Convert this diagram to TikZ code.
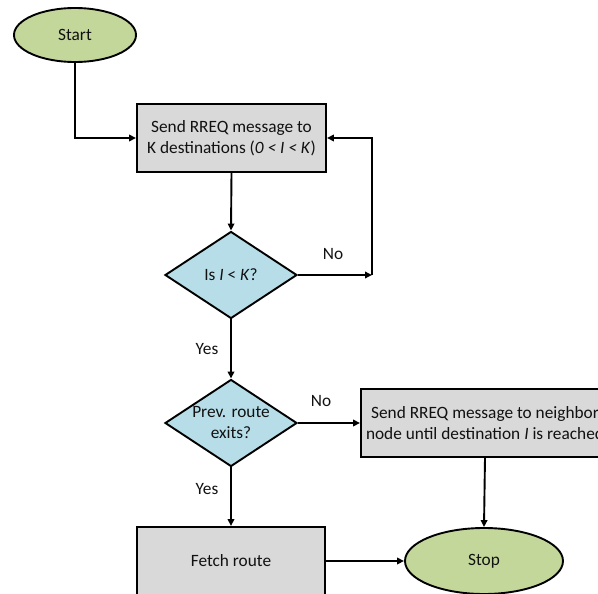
\documentclass[tikz,border=0pt]{standalone}
\usepackage{fontspec}
\setmainfont{Carlito}
\usetikzlibrary{shapes.geometric,arrows.meta}
\definecolor{termgreen}{HTML}{C4D79B}
\definecolor{decblue}{HTML}{B7DEE8}
\definecolor{boxgray}{HTML}{D9D9D9}
\definecolor{ink}{HTML}{111111}
\begin{document}
\begin{tikzpicture}[x=1pt,y=-1pt,
  every node/.style={font=\fontsize{17.3}{21}\selectfont, text=ink},
  outline/.style={draw=black, line width=1.9pt},
  terminal/.style={outline, ellipse, fill=termgreen, inner sep=0pt},
  procbox/.style={outline, rectangle, fill=boxgray, align=center, inner sep=0pt, minimum height=68pt},
  decide/.style={outline, diamond, fill=decblue, inner sep=0pt, minimum width=132pt, minimum height=87pt},
  link/.style={draw=black, line width=1.9pt, -{Triangle[length=7pt,width=6.5pt]}},
  tag/.style={inner sep=0pt}]
\useasboundingbox (0,0) rectangle (598,594);
\clip (0,0) rectangle (598,594);

% terminals and steps
\node[terminal, minimum width=122pt, minimum height=54pt] (start) at (75,35) {Start};
\node[procbox, minimum width=189pt] (send) at (231.5,138)
  {Send RREQ message to\\K destinations (\textit{0 < I < K})};
\node[decide, label={[text=ink]center:Is \textit{I} < \textit{K}?}] (chk) at (231,275) {};
\node[decide, label={[text=ink, align=center]center:Prev. route\\exits?}] (prev) at (231,423) {};
\node[procbox, minimum width=248pt] (flood) at (485,423)
  {Send RREQ message to neighbor\\node until destination \textit{I} is reached};
\node[procbox, minimum width=188pt] (fetch) at (231,561) {Fetch route};
\node[terminal, minimum width=158pt, minimum height=66pt] (stop) at (484,561) {Stop};

% branch labels
\node[tag] (no1) at (333,254) {No};
\node[tag] (yes1) at (207,349) {Yes};
\node[tag] (no2) at (321,401) {No};
\node[tag] (yes2) at (207,489) {Yes};

% connectors
\coordinate (loop) at (372,275);
\draw[link] (start.south) |- (send.west);
\draw[link] (send.south) -- (chk.north);
\draw[link] (chk.east) -- (loop);
\draw[link] (loop) |- (send.east);
\draw[link] (chk.south) -- (prev.north);
\draw[link] (prev.east) -- (flood.west);
\draw[link] (prev.south) -- (fetch.north);
\draw[link] (flood.south) -- (stop.north);
\draw[link] (fetch.east) -- (stop.west);
\end{tikzpicture}
\end{document}
